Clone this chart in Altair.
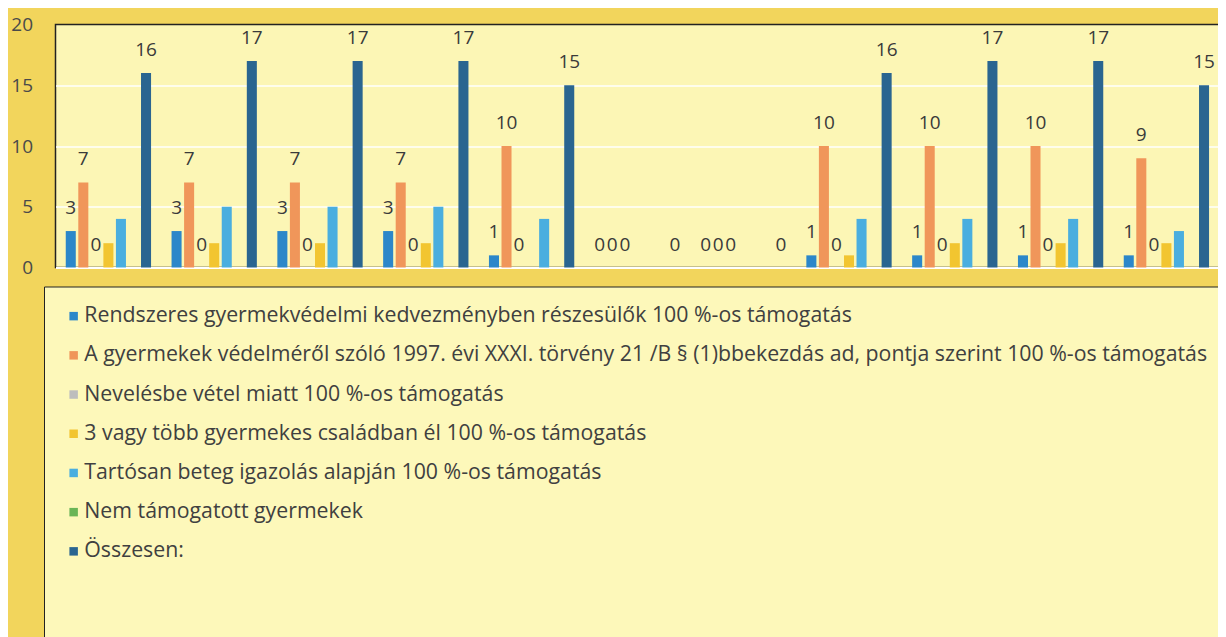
import altair as alt
import pandas as pd

groups = ["1", "2", "3", "4", "5", "6", "7", "8", "9", "10", "11"]

series = [
    "Rendszeres gyermekvédelmi kedvezményben részesülők 100 %-os támogatás",
    "A gyermekek védelméről szóló 1997. évi XXXI. törvény 21 /B § (1)bbekezdás ad, pontja szerint 100 %-os támogatás",
    "Nevelésbe vétel miatt  100 %-os támogatás",
    "3 vagy több gyermekes családban él 100 %-os támogatás",
    "Tartósan beteg igazolás alapján  100 %-os támogatás",
    "Nem támogatott gyermekek",
    "Összesen:",
]

s1 = [3, 3, 3, 3, 1, 0, 0, 1, 1, 1, 1]
s2 = [7, 7, 7, 7, 10, 0, 0, 10, 10, 10, 9]
s3 = [0, 0, 0, 0, 0, 0, 0, 0, 0, 0, 0]
s4 = [2, 2, 2, 2, 0, 0, 0, 1, 2, 2, 2]
s5 = [4, 5, 5, 5, 4, 0, 0, 4, 4, 4, 3]
s6 = [0, 0, 0, 0, 0, 0, 0, 0, 0, 0, 0]
s7 = [16, 17, 17, 17, 15, 0, 0, 16, 17, 17, 15]

labeled = [True, True, True, False, False, False, True]

colors = ["#2C87C9", "#F0965A", "#BDBDBD", "#F2C530", "#4AAEDF", "#6AB556", "#2A6590"]

all_values = [s1, s2, s3, s4, s5, s6, s7]
rows = []
for si, (name, vals) in enumerate(zip(series, all_values)):
    for g, v in zip(groups, vals):
        rows.append({"group": g, "series": name, "value": v, "lab": labeled[si]})
df = pd.DataFrame(rows)

FONT = "Open Sans"

x_enc = alt.X(
    "group:N",
    sort=groups,
    scale=alt.Scale(paddingInner=0.17, paddingOuter=0.085),
    axis=alt.Axis(labels=False, ticks=False, title=None, domainColor="#FFFFFF",
                  domainWidth=2, grid=False),
)
xoff_enc = alt.XOffset(
    "series:N", sort=series, scale=alt.Scale(paddingInner=0.2, paddingOuter=0.1)
)
y_enc = alt.Y(
    "value:Q",
    scale=alt.Scale(domain=[0, 20], nice=False),
    axis=alt.Axis(
        values=[0, 5, 10, 15, 20],
        title=None,
        ticks=False,
        domain=False,
        labelPadding=23,
        labelFontSize=19,
        labelFont=FONT,
        labelColor="#4a4a4a",
        gridColor={"condition": {"test": "datum.value === 20", "value": "transparent"},
                   "value": "#FFFFFF"},
        gridWidth=1.5,
    ),
)

base = alt.Chart(df).encode(x=x_enc, xOffset=xoff_enc, y=y_enc)

bars = base.mark_bar().encode(
    color=alt.Color(
        "series:N",
        sort=series,
        scale=alt.Scale(domain=series, range=colors),
        legend=alt.Legend(
            orient="none",
            legendX=-11.5,
            legendY=262,
            direction="vertical",
            title="\u00a0",
            titleOrient="bottom",
            titleFontSize=19,
            titlePadding=60,
            symbolType="square",
            symbolSize=72,
            symbolStrokeWidth=0,
            labelFontSize=21.3,
            labelFont=FONT,
            labelColor="#404040",
            labelLimit=3000,
            labelOffset=0,
            rowPadding=17.2,
            padding=19,
            fillColor="#FDF8BA",
            strokeColor="#222222",
        ),
    )
)

text = base.transform_filter("datum.lab").mark_text(
    baseline="alphabetic", dy=-17, fontSize=19, font=FONT, color="#3a3a3a"
).encode(text="value:Q")

chart = (
    alt.layer(bars, text)
    .properties(
        width=1163.8,
        height=243,
        background="#F2D55C",
        autosize=alt.AutoSizeParams(type="none"),
        padding={"top": 16.5, "left": 47.5, "right": -1.3, "bottom": 370},
    )
    .configure_view(fill="#FCF6B5", stroke="#222222", strokeWidth=1.5)
)

chart.save("out.html", embed_options={"renderer": "svg", "actions": False})
